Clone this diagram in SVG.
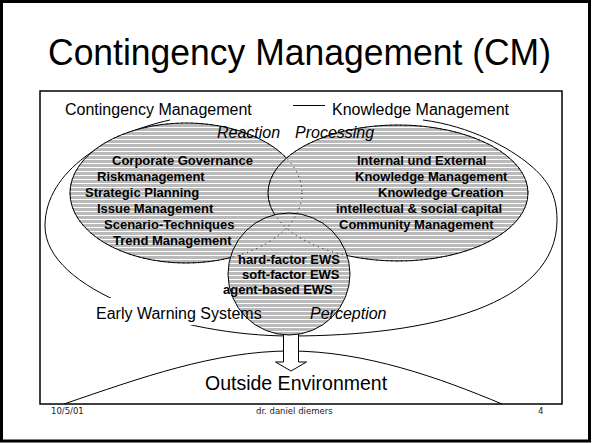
<svg xmlns="http://www.w3.org/2000/svg" width="592" height="443" viewBox="0 0 592 443">
  <defs>
    <style>
      .ln { fill: none; stroke: #000; stroke-width: 1; }
      .dot { fill: none; stroke: #000; stroke-width: 1; stroke-dasharray: 1 4; }
      .area { fill: url(#hatch); stroke: #000; stroke-width: 1; }
      .lbl { font-family: "Liberation Sans", Arial, sans-serif; font-size: 16px; fill: #000; }
      .it { font-style: italic; }
      .item { font-family: "Liberation Sans", Arial, sans-serif; font-size: 13px; font-weight: bold; fill: #000; }
      .foot { font-family: "DejaVu Sans", Verdana, sans-serif; font-size: 8.5px; fill: #222; }
    </style>
    <pattern id="hatch" patternUnits="userSpaceOnUse" width="8" height="4">
      <rect width="8" height="4" fill="#bababa"/>
      <rect y="3" width="8" height="1" fill="#fff"/>
    </pattern>
    <!-- keeps the outer boundary out of the "Early Warning Systems" label box -->
    <mask id="ewsGap" maskUnits="userSpaceOnUse" x="0" y="0" width="592" height="443">
      <rect width="592" height="443" fill="#fff"/>
      <rect x="90" y="298" width="103" height="27" fill="#000"/>
    </mask>
  </defs>

  <!-- slide frame -->
  <rect x="1.5" y="1.5" width="588" height="439.5" fill="#fff" stroke="#000" stroke-width="3"/>
  <text x="48" y="65" font-family="'Liberation Sans', Arial, sans-serif" font-size="37" textLength="503" lengthAdjust="spacingAndGlyphs">Contingency Management (CM)</text>
  <rect x="40" y="91" width="522" height="313" fill="none" stroke="#000" stroke-width="1.5"/>

  <!-- overall contingency management boundary -->
  <g id="cm-boundary">
    <path class="ln" mask="url(#ewsGap)" d="M170,120 C110,133 45,170 45,226 C45,290 180,336 290,336 C430,336 557,305 557,220 C557,195 548,180 530,165 C510,148 470,126 423,120"/>
    <text class="lbl" x="65" y="114.5">Contingency Management</text>
    <text class="lbl" x="332" y="114.5">Knowledge Management</text>
  </g>

  <!-- outside environment -->
  <g id="environment">
    <path class="ln" d="M64,404 C140,378 215,351 290,351 C365,351 440,378 502,404"/>
    <text x="205" y="390" font-family="'Liberation Sans', Arial, sans-serif" font-size="19.5">Outside Environment</text>
  </g>

  <g id="connectors">
    <line class="ln" x1="293" y1="105.5" x2="325" y2="105.5"/>
    <polygon points="283.5,330 298.5,330 298.5,362 306.5,362 291,371 275.5,362 283.5,362" fill="#fff" stroke="#000" stroke-width="1"/>
  </g>

  <!-- reaction -->
  <g id="reaction">
    <ellipse class="area" cx="186" cy="193" rx="116" ry="70"/>
  </g>

  <!-- processing -->
  <g id="processing">
    <ellipse class="area" cx="398" cy="193" rx="130" ry="68"/>
  </g>

  <!-- perception -->
  <g id="perception">
    <circle class="area" cx="289" cy="274" r="61"/>
  </g>

  <!-- hidden outlines of the overlapping areas -->
  <g id="hidden-edges">
    <ellipse class="dot" cx="186" cy="193" rx="116" ry="70"/>
    <ellipse class="dot" cx="398" cy="193" rx="130" ry="68"/>
  </g>

  <g id="reaction-text">
    <text class="lbl it" x="217" y="138">Reaction</text>
    <text class="item" x="112" y="165">Corporate Governance</text>
    <text class="item" x="97" y="181">Riskmanagement</text>
    <text class="item" x="85" y="197">Strategic Planning</text>
    <text class="item" x="97" y="213">Issue Management</text>
    <text class="item" x="104" y="229">Scenario-Techniques</text>
    <text class="item" x="113" y="245">Trend Management</text>
  </g>

  <g id="processing-text">
    <text class="lbl it" x="295" y="138">Processing</text>
    <text class="item" x="357" y="165">Internal und External</text>
    <text class="item" x="355" y="181">Knowledge Management</text>
    <text class="item" x="378" y="197">Knowledge Creation</text>
    <text class="item" x="336" y="213">intellectual &amp; social capital</text>
    <text class="item" x="339" y="229">Community Management</text>
  </g>

  <g id="perception-text">
    <text class="item" x="238" y="264">hard-factor EWS</text>
    <text class="item" x="242" y="279">soft-factor EWS</text>
    <text class="item" x="223" y="294">agent-based EWS</text>
    <text class="lbl" x="96" y="319">Early Warning Systems</text>
    <text class="lbl it" x="310" y="319">Perception</text>
  </g>

  <!-- footer -->
  <g id="footer">
    <text class="foot" x="51" y="414">10/5/01</text>
    <text class="foot" x="256" y="414">dr. daniel diemers</text>
    <text class="foot" x="538" y="414">4</text>
  </g>
</svg>
